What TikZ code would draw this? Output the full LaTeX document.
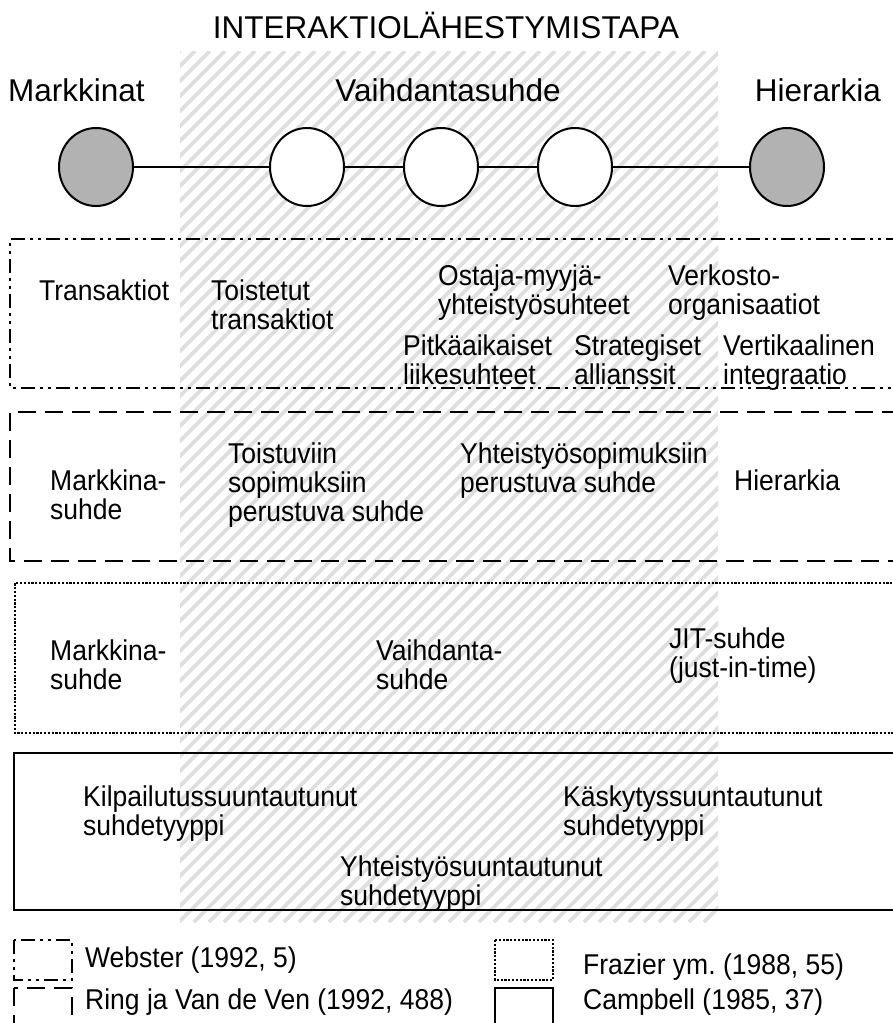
\documentclass[tikz,border=0pt]{standalone}
\usepackage{graphicx}
\usepackage{fontspec}
\setmainfont{Liberation Sans}
\frenchspacing
% left-aligned lines, slightly tall lettering
\newcommand\mlines[1]{\scalebox{1}[1.08]{\begin{tabular}[t]{@{}l@{}}#1\end{tabular}}}
\definecolor{ballgray}{RGB}{178,178,178}
\definecolor{hatchgray}{RGB}{222,222,222}
\tikzset{
  lbl/.style={anchor=base west, inner sep=0pt, font=\fontsize{26.5}{26}\selectfont},
  head/.style={anchor=base, inner sep=0pt, font=\fontsize{31.5}{36}\selectfont},
  ball/.style={ellipse, draw, line width=2pt, minimum width=74pt, minimum height=78pt, inner sep=0pt, fill=white},
  endball/.style={ball, fill=ballgray},
  hatchline/.style={draw=hatchgray, line width=3.6pt},
  websterbox/.style={line width=2.5pt, dash pattern=on 14pt off 5pt on 3pt off 5pt on 3pt off 5pt},
  ringbox/.style={line width=2.5pt, dash pattern=on 18pt off 9pt},
  frazierbox/.style={line width=2.5pt, dash pattern=on 2.2pt off 1.6pt},
  campbellbox/.style={line width=2.5pt},
}
\usetikzlibrary{shapes.geometric}
\begin{document}
\begin{tikzpicture}[x=1pt,y=-1pt]
\useasboundingbox (0,0) rectangle (892,1023);

% hatched middle band
\begin{scope}
  \clip (180,51) rectangle (718,922);
  \foreach \k in {0,...,95}
    \draw[hatchline] ({-691+\k*15},922) -- ++(871,-871);
\end{scope}

% heading and scale labels
\node[head] (title) at (446,38) {INTERAKTIOLÄHESTYMISTAPA};
\node[head, anchor=base west] (markets) at (8,101) {Markkinat};
\node[head] (exchange) at (448,101) {Vaihdantasuhde};
\node[head, anchor=base east] (hierarchy) at (881,101) {Hierarkia};

% continuum of circles
\node[endball] (c1) at (96,167) {};
\node[ball] (c2) at (307,167) {};
\node[ball] (c3) at (441,167) {};
\node[ball] (c4) at (575,167) {};
\node[endball] (c5) at (787,167) {};
\draw[line width=2pt] (c1) -- (c2) -- (c3) -- (c4) -- (c5);

% Webster
\draw[websterbox] (900,239) -- (10,239) -- (10,388) -- (900,388);
\node[lbl] (w1) at (39,300) {\mlines{Transaktiot}};
\node[lbl] (w2) at (211,300) {\mlines{Toistetut\\transaktiot}};
\node[lbl] (w3) at (438,285) {\mlines{Ostaja-myyjä-\\yhteistyösuhteet}};
\node[lbl] (w4) at (668,285) {\mlines{Verkosto-\\organisaatiot}};
\node[lbl] (w5) at (403,355) {\mlines{Pitkäaikaiset\\liikesuhteet}};
\node[lbl] (w6) at (574,355) {\mlines{Strategiset\\allianssit}};
\node[lbl] (w7) at (723,355) {\mlines{Vertikaalinen\\integraatio}};

% Ring ja Van de Ven
\draw[ringbox] (900,412) -- (10,412) -- (10,561) -- (900,561);
\node[lbl] (r1) at (50,490) {\mlines{Markkina-\\suhde}};
\node[lbl] (r2) at (228,463) {\mlines{Toistuviin\\sopimuksiin\\perustuva suhde}};
\node[lbl] (r3) at (460,463) {\mlines{Yhteistyösopimuksiin\\perustuva suhde}};
\node[lbl] (r4) at (734,490) {\mlines{Hierarkia}};

% Frazier ym.
\draw[frazierbox] (900,583) -- (15,583) -- (15,733) -- (900,733);
\node[lbl] (f1) at (50,660) {\mlines{Markkina-\\suhde}};
\node[lbl] (f2) at (376,660) {\mlines{Vaihdanta-\\suhde}};
\node[lbl] (f3) at (669,648) {\mlines{JIT-suhde\\(just-in-time)}};

% Campbell
\draw[campbellbox] (900,753) -- (14,753) -- (14,910) -- (900,910);
\node[lbl] (k1) at (83,806) {\mlines{Kilpailutussuuntautunut\\suhdetyyppi}};
\node[lbl] (k2) at (563,806) {\mlines{Käskytyssuuntautunut\\suhdetyyppi}};
\node[lbl] (k3) at (340,876) {\mlines{Yhteistyösuuntautunut\\suhdetyyppi}};

% legend
\draw[websterbox] (14,940) rectangle (72,980);
\node[lbl] (l1) at (85,967) {\mlines{Webster (1992, 5)}};
\draw[ringbox] (14,988) rectangle (72,1040);
\node[lbl] (l2) at (85,1009) {\mlines{Ring ja Van de Ven (1992, 488)}};
\draw[frazierbox] (495,940) rectangle (553,980);
\node[lbl] (l3) at (583,974) {\mlines{Frazier ym. (1988, 55)}};
\draw[campbellbox] (495,988) rectangle (553,1040);
\node[lbl] (l4) at (583,1009) {\mlines{Campbell (1985, 37)}};
\end{tikzpicture}
\end{document}
